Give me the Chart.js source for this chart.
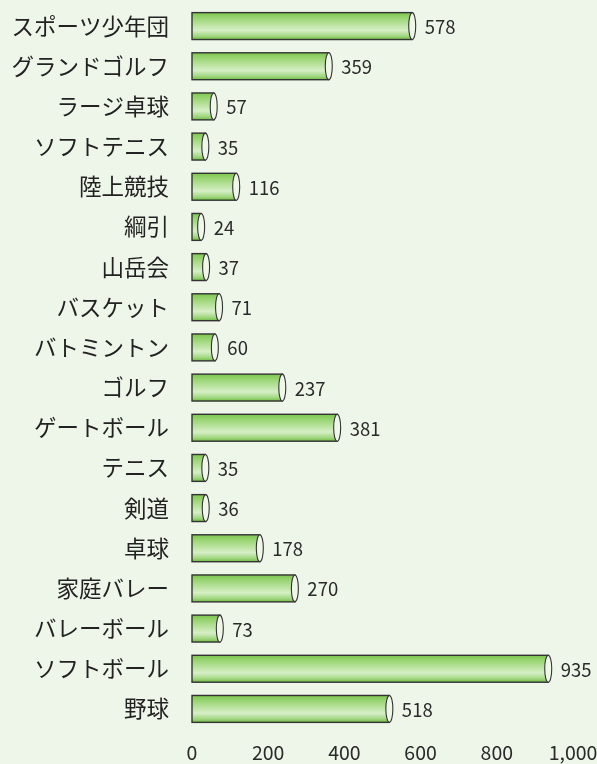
<!DOCTYPE html>
<html>
<head>
<meta charset="utf-8">
<script src="https://cdn.jsdelivr.net/npm/chart.js@4/dist/chart.umd.min.js"></script>
<style>
html,body{margin:0;padding:0;background:#eef6ea;}
#wrap{width:597px;height:764px;position:relative;}
</style>
</head>
<body>
<div id="wrap"><canvas id="c" width="597" height="764"></canvas></div>
<script>
const categories = ['スポーツ少年団','グランドゴルフ','ラージ卓球','ソフトテニス','陸上競技','綱引','山岳会','バスケット','バトミントン','ゴルフ','ゲートボール','テニス','剣道','卓球','家庭バレー','バレーボール','ソフトボール','野球'];
const values = [578,359,57,35,116,24,37,71,60,237,381,35,36,178,270,73,935,518];
const tickValues = [0,200,400,600,800,1000];
const tickLabels = ['0','200','400','600','800','1,000'];

const FONT = '"Noto Sans CJK JP","Noto Sans",sans-serif';

const cylPlugin = {
  id:'cyl',
  afterDatasetsDraw(chart){
    const ctx = chart.ctx;
    const meta = chart.getDatasetMeta(0);
    ctx.save();
    meta.data.forEach((bar,i)=>{
      const p = bar.getProps(['x','y','base','height'], true);
      const top = p.y - p.height/2, bot = p.y + p.height/2;
      const g = ctx.createLinearGradient(0, top, 0, bot);
      g.addColorStop(0,'#7cc54e');
      g.addColorStop(0.15,'#93d26a');
      g.addColorStop(0.66,'#d6efc6');
      g.addColorStop(0.87,'#a2d782');
      g.addColorStop(1,'#70bb42');
      ctx.fillStyle = g;
      ctx.fillRect(p.base, top, p.x - p.base, p.height);
      ctx.strokeStyle = '#333333';
      ctx.lineWidth = 1.4;
      ctx.strokeRect(p.base, top, p.x - p.base, p.height);
      ctx.beginPath();
      ctx.ellipse(p.x, p.y, 3.5, p.height/2, 0, 0, Math.PI*2);
      ctx.fillStyle = '#eef7e8';
      ctx.fill();
      ctx.lineWidth = 1.1;
      ctx.stroke();
      ctx.fillStyle = '#2a2a2a';
      ctx.font = '18.5px ' + FONT;
      ctx.textAlign = 'left';
      ctx.textBaseline = 'middle';
      ctx.fillText(String(values[i]), p.x + 12.5, p.y + 1);
    });
    ctx.restore();
  }
};

new Chart(document.getElementById('c'), {
  type:'bar',
  data:{
    labels:categories,
    datasets:[{data:values, backgroundColor:'rgba(0,0,0,0)', borderWidth:0, categoryPercentage:1, barPercentage:0.67}]
  },
  options:{
    indexAxis:'y',
    responsive:false,
    animation:false,
    events:[],
    layout:{padding:{top:6,right:24,bottom:0,left:0}},
    plugins:{legend:{display:false}, tooltip:{enabled:false}},
    scales:{
      y:{
        grid:{display:false, drawTicks:false},
        border:{display:false},
        ticks:{color:'#222', font:{size:22.5, family:FONT}, padding:23},
        afterFit(s){ s.width = 192; s.paddingTop = 0; s.paddingBottom = 0; }
      },
      x:{
        min:0, max:1000,
        grid:{display:false, drawTicks:false},
        border:{display:false},
        afterBuildTicks(s){ s.ticks = tickValues.map(v=>({value:v})); },
        ticks:{color:'#2a2a2a', font:{size:19.5, family:FONT}, padding:12, maxRotation:0,
          callback:(v)=>tickLabels[tickValues.indexOf(v)]},
        afterFit(s){ s.height = 35; s.paddingLeft = 0; s.paddingRight = 0; }
      }
    }
  },
  plugins:[cylPlugin]
});
</script>
</body>
</html>
